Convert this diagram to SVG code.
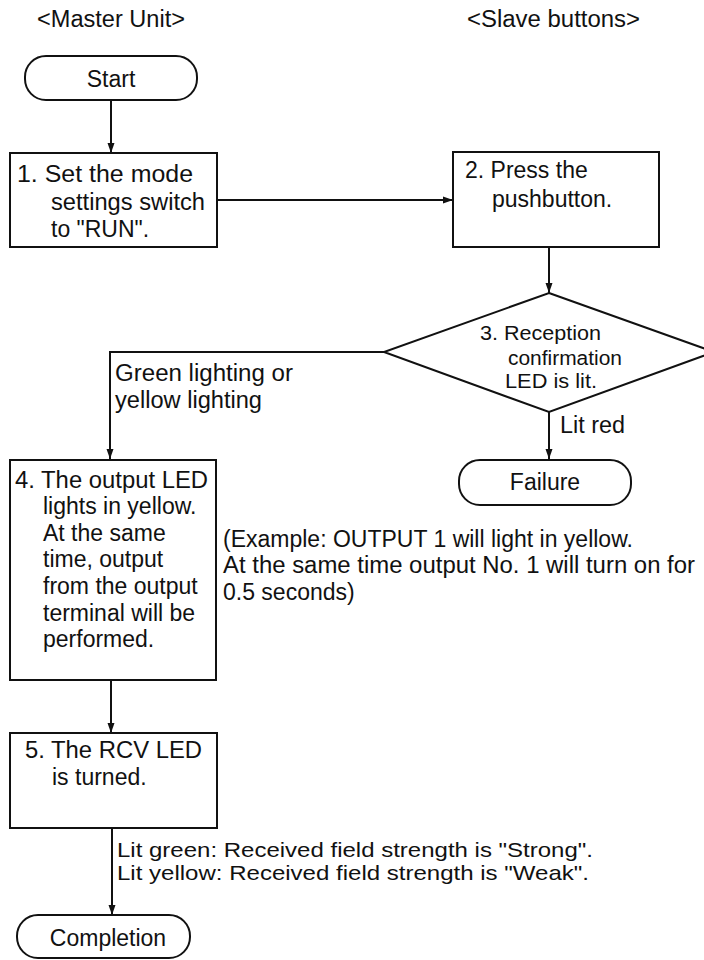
<svg xmlns="http://www.w3.org/2000/svg" width="704" height="960" viewBox="0 0 704 960">
<style>
text{font-family:"Liberation Sans",Arial,sans-serif;fill:#111;font-size:23px}
.shape{fill:#fff;stroke:#111;stroke-width:2}
.conn{fill:none;stroke:#111;stroke-width:2}
.dia{font-size:20px}
.foot{font-size:21px}
.mid{text-anchor:middle}
</style>
<defs>
<marker id="arr" markerUnits="userSpaceOnUse" markerWidth="10" markerHeight="8" refX="10" refY="4" orient="auto">
<path d="M0,0.5 L10,4 L0,7.5 z" fill="#111"/>
</marker>
</defs>
<rect width="704" height="960" fill="#fff"/>
<g id="headers">
<text x="37" y="27" textLength="148" lengthAdjust="spacingAndGlyphs">&lt;Master Unit&gt;</text>
<text x="467" y="27" textLength="173" lengthAdjust="spacingAndGlyphs">&lt;Slave buttons&gt;</text>
</g>
<g id="connectors">
<line class="conn" x1="111" y1="100" x2="111" y2="153" marker-end="url(#arr)"/>
<line class="conn" x1="217" y1="200" x2="453" y2="200" marker-end="url(#arr)"/>
<line class="conn" x1="549" y1="247" x2="549" y2="293" marker-end="url(#arr)"/>
<polyline class="conn" points="384,352 110,352 110,459" marker-end="url(#arr)"/>
<line class="conn" x1="549" y1="412" x2="549" y2="459" marker-end="url(#arr)"/>
<line class="conn" x1="111" y1="680" x2="111" y2="733" marker-end="url(#arr)"/>
<line class="conn" x1="112" y1="828" x2="112" y2="915" marker-end="url(#arr)"/>
<text x="115" y="381" textLength="178" lengthAdjust="spacingAndGlyphs">Green lighting or</text>
<text x="115" y="408" textLength="147" lengthAdjust="spacingAndGlyphs">yellow lighting</text>
<text x="560" y="433" textLength="65" lengthAdjust="spacingAndGlyphs">Lit red</text>
<text class="foot" x="117" y="857" textLength="476" lengthAdjust="spacingAndGlyphs">Lit green: Received field strength is "Strong".</text>
<text class="foot" x="117" y="880" textLength="472" lengthAdjust="spacingAndGlyphs">Lit yellow: Received field strength is "Weak".</text>
</g>
<g id="start">
<rect class="shape" x="25" y="56" width="172" height="44" rx="21"/>
<text class="mid" x="111" y="87">Start</text>
</g>
<g id="step1">
<rect class="shape" x="10" y="153" width="207" height="94"/>
<text x="17" y="182" textLength="176" lengthAdjust="spacingAndGlyphs">1. Set the mode</text>
<text x="51" y="210" textLength="154" lengthAdjust="spacingAndGlyphs">settings switch</text>
<text x="51" y="237">to "RUN".</text>
</g>
<g id="step2">
<rect class="shape" x="453" y="152" width="206" height="95"/>
<text x="465" y="178">2. Press the</text>
<text x="492" y="207">pushbutton.</text>
</g>
<g id="step3">
<polygon class="shape" points="549,293 714,352 549,412 384,352"/>
<text class="dia" x="480" y="340" textLength="121" lengthAdjust="spacingAndGlyphs">3. Reception</text>
<text class="dia" x="508" y="365" textLength="114" lengthAdjust="spacingAndGlyphs">confirmation</text>
<text class="dia" x="505" y="388" textLength="92" lengthAdjust="spacingAndGlyphs">LED is lit.</text>
</g>
<g id="failure">
<rect class="shape" x="459" y="460" width="172" height="45" rx="21"/>
<text class="mid" x="545" y="490">Failure</text>
</g>
<g id="step4">
<rect class="shape" x="10" y="460" width="206" height="220"/>
<text x="15" y="488" textLength="193" lengthAdjust="spacingAndGlyphs">4. The output LED</text>
<text x="43" y="514">lights in yellow.</text>
<text x="43" y="541">At the same</text>
<text x="43" y="567">time, output</text>
<text x="43" y="594">from the output</text>
<text x="43" y="621">terminal will be</text>
<text x="43" y="647">performed.</text>
</g>
<g id="note">
<text x="223" y="547">(Example: OUTPUT 1 will light in yellow.</text>
<text x="223" y="573" textLength="472" lengthAdjust="spacingAndGlyphs">At the same time output No. 1 will turn on for</text>
<text x="223" y="600">0.5 seconds)</text>
</g>
<g id="step5">
<rect class="shape" x="10" y="733" width="207" height="95"/>
<text x="25" y="758" textLength="177" lengthAdjust="spacingAndGlyphs">5. The RCV LED</text>
<text x="52" y="785">is turned.</text>
</g>
<g id="completion">
<rect class="shape" x="17" y="915" width="173" height="43" rx="21"/>
<text class="mid" x="108" y="946">Completion</text>
</g>
</svg>
